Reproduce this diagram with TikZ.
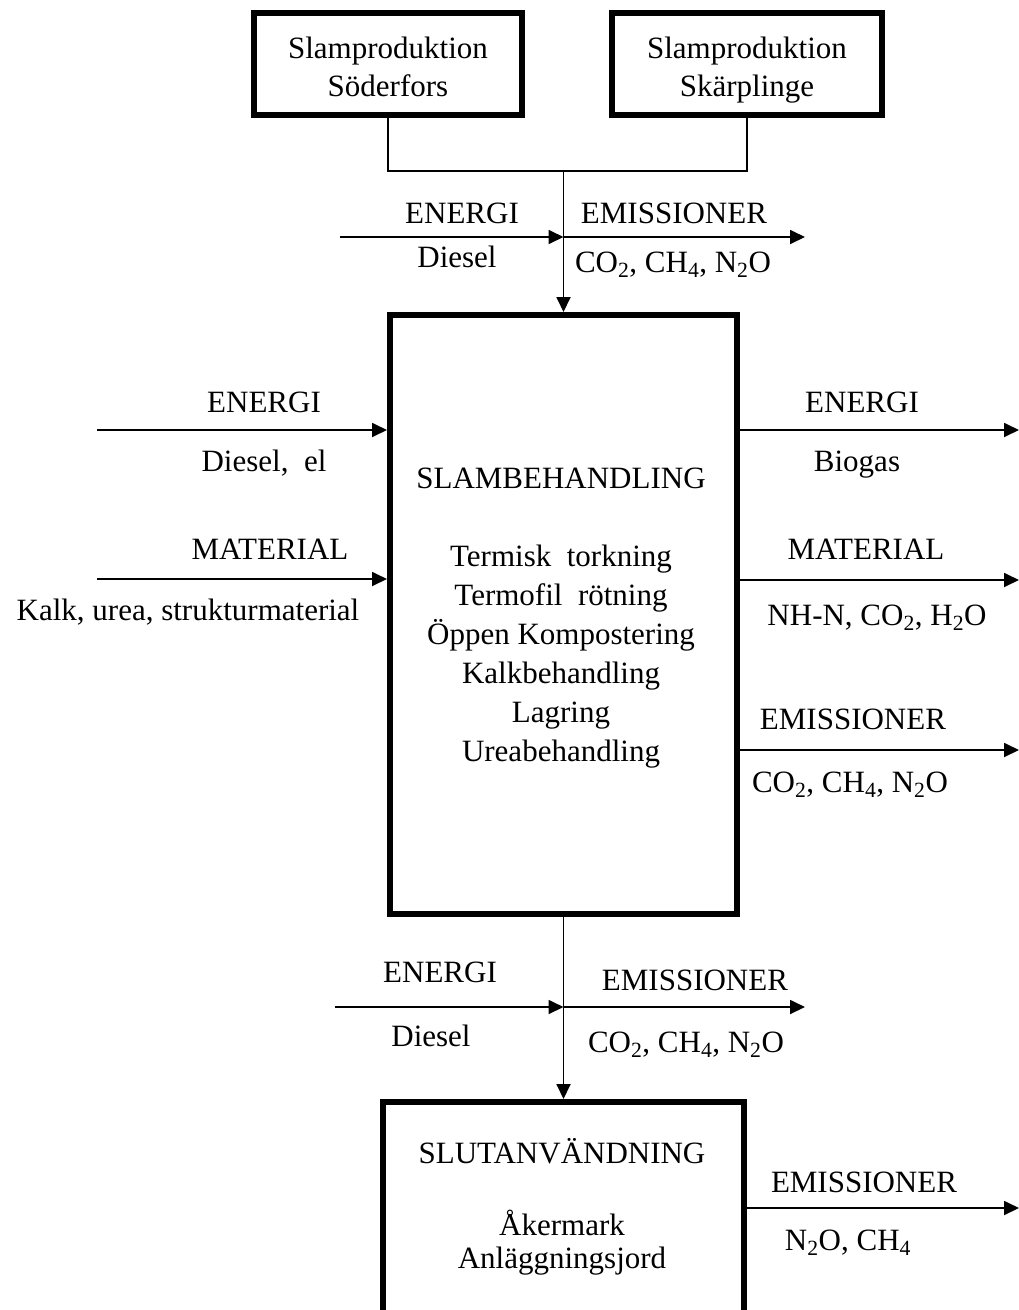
\documentclass[tikz,border=0pt]{standalone}
\usepackage{fontspec}
\setmainfont{Liberation Serif}
\usetikzlibrary{arrows.meta}

\tikzset{
  box/.style={draw, line width=6pt, inner sep=0pt},
  arr/.style={-{Triangle[length=15pt,width=14pt]}},
  lbl/.style={anchor=base, align=center, inner sep=0pt}
}

\begin{document}
\begin{tikzpicture}[x=1pt, y=-1pt, line width=1.8pt,
    every node/.style={font=\fontsize{31}{38}\selectfont}]
  \useasboundingbox (0,0) rectangle (1019,1310);

  % boxes
  \node[box, minimum width=268pt, minimum height=102pt] (sod) at (388,64) {};
  \node[box, minimum width=270pt, minimum height=102pt] (skp) at (747,64) {};
  \node[box, minimum width=347pt, minimum height=599pt] (slam) at (563.5,614.5) {};
  \node[box, minimum width=361pt, minimum height=300pt] (slut) at (563.5,1252) {};

  % multi-line texts sit on their last baseline
  \node[lbl] (sodtxt) at (388,96) {Slamproduktion\\Söderfors};
  \node[lbl] (skptxt) at (747,96) {Slamproduktion\\Skärplinge};
  \node[lbl] (slamtxt) at (561,488) {SLAMBEHANDLING};
  \node[lbl, font=\fontsize{31}{39}\selectfont] (slamlist) at (561,761)
    {Termisk \ torkning\\Termofil \ rötning\\Öppen Kompostering\\Kalkbehandling\\Lagring\\Ureabehandling};
  \node[lbl] (sluttxt) at (562,1163) {SLUTANVÄNDNING};
  \node[lbl, font=\fontsize{31}{33}\selectfont] (slutlist) at (562,1268) {Åkermark\\Anläggningsjord};

  % flow from production to treatment
  \coordinate (join) at (563.5,171);
  \draw (sod.south) |- (join);
  \draw (skp.south) |- (join);
  \draw[arr] (join) -- (slam.north);

  \coordinate (ein1) at (340,237);
  \coordinate (mid1) at (563.5,237);
  \coordinate (eut1) at (805,237);
  \draw[arr] (ein1) -- (mid1);
  \draw[arr] (mid1) -- (eut1);
  \node[lbl] (ein1a) at (462,223) {ENERGI};
  \node[lbl] (ein1b) at (457,267) {Diesel};
  \node[lbl] (eut1a) at (674,223) {EMISSIONER};
  \node[lbl] (eut1b) at (673,272) {CO\textsubscript{2}, CH\textsubscript{4}, N\textsubscript{2}O};

  % inputs to treatment
  \coordinate (lin1) at (97,430);
  \coordinate (lin2) at (97,579);
  \draw[arr] (lin1) -- (lin1 -| slam.west);
  \draw[arr] (lin2) -- (lin2 -| slam.west);
  \node[lbl] (lin1a) at (264,412) {ENERGI};
  \node[lbl] (lin1b) at (264,471) {Diesel, \ el};
  \node[lbl] (lin2a) at (270,559) {MATERIAL};
  \node[lbl] (lin2b) at (188,620) {Kalk, urea, strukturmaterial};

  % outputs from treatment
  \coordinate (rut1) at (1019,430);
  \coordinate (rut2) at (1019,580);
  \coordinate (rut3) at (1019,750);
  \draw[arr] (rut1 -| slam.east) -- (rut1);
  \draw[arr] (rut2 -| slam.east) -- (rut2);
  \draw[arr] (rut3 -| slam.east) -- (rut3);
  \node[lbl] (rut1a) at (862,412) {ENERGI};
  \node[lbl] (rut1b) at (857,471) {Biogas};
  \node[lbl] (rut2a) at (866,559) {MATERIAL};
  \node[lbl] (rut2b) at (877,625) {NH-N, CO\textsubscript{2}, H\textsubscript{2}O};
  \node[lbl] (rut3a) at (853,729) {EMISSIONER};
  \node[lbl] (rut3b) at (850,792) {CO\textsubscript{2}, CH\textsubscript{4}, N\textsubscript{2}O};

  % transport to end use
  \draw[arr] (slam.south) -- (slut.north);
  \coordinate (ein2) at (335,1007);
  \coordinate (mid2) at (563.5,1007);
  \coordinate (eut2) at (805,1007);
  \draw[arr] (ein2) -- (mid2);
  \draw[arr] (mid2) -- (eut2);
  \node[lbl] (ein2a) at (440,982) {ENERGI};
  \node[lbl] (ein2b) at (431,1046) {Diesel};
  \node[lbl] (eut2a) at (695,990) {EMISSIONER};
  \node[lbl] (eut2b) at (686,1052) {CO\textsubscript{2}, CH\textsubscript{4}, N\textsubscript{2}O};

  % end use
  \coordinate (rut4) at (1019,1208);
  \draw[arr] (rut4 -| slut.east) -- (rut4);
  \node[lbl] (rut4a) at (864,1192) {EMISSIONER};
  \node[lbl] (rut4b) at (848,1250) {N\textsubscript{2}O, CH\textsubscript{4}};
\end{tikzpicture}
\end{document}
